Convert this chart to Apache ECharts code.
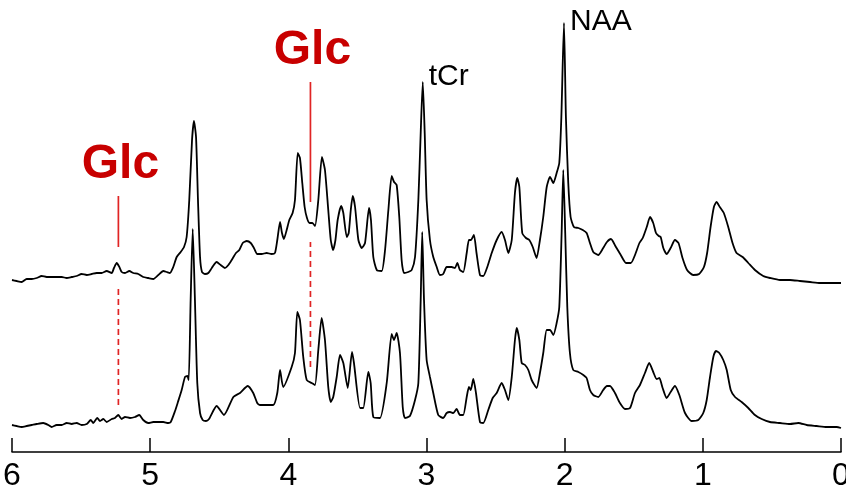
<!DOCTYPE html>
<html>
<head>
<meta charset="utf-8">
<style>
  html, body { margin: 0; padding: 0; background: #ffffff; }
  #chart { width: 846px; height: 490px; }
</style>
<script src="https://cdn.jsdelivr.net/npm/echarts@6/dist/echarts.min.js"></script>
</head>
<body>
<div id="chart"></div>
<script>
// Chemical shift axis ticks (ppm)
const ppmTicks = [6, 5, 4, 3, 2, 1, 0];

// Lower spectrum: chemical shift (ppm) and signal intensity (a.u.)
const ppmLower = [
  6.000, 5.966, 5.930, 5.894, 5.857, 5.821, 5.774, 5.737, 5.713, 5.677,
  5.640, 5.604, 5.568, 5.532, 5.496, 5.459, 5.430, 5.412, 5.383, 5.363,
  5.339, 5.315, 5.278, 5.255, 5.231, 5.206, 5.182, 5.146, 5.110, 5.079,
  5.050, 5.014, 4.977, 4.941, 4.905, 4.869, 4.851, 4.820, 4.799, 4.772,
  4.748, 4.731, 4.721, 4.707, 4.692, 4.676, 4.659, 4.639, 4.620, 4.596,
  4.574, 4.519, 4.466, 4.398, 4.350, 4.294, 4.254, 4.225, 4.205, 4.109,
  4.080, 4.060, 4.037, 3.976, 3.952, 3.935, 3.916, 3.892, 3.867, 3.831,
  3.807, 3.783, 3.759, 3.735, 3.711, 3.693, 3.675, 3.650, 3.626, 3.602,
  3.570, 3.539, 3.525, 3.481, 3.458, 3.421, 3.404, 3.385, 3.337, 3.288,
  3.252, 3.235, 3.216, 3.192, 3.172, 3.156, 3.120, 3.083, 3.059, 3.042,
  3.031, 3.018, 2.999, 2.975, 2.951, 2.915, 2.879, 2.854, 2.830, 2.806,
  2.782, 2.758, 2.734, 2.709, 2.693, 2.680, 2.661, 2.642, 2.613, 2.589,
  2.553, 2.521, 2.492, 2.456, 2.432, 2.408, 2.383, 2.360, 2.347, 2.328,
  2.311, 2.287, 2.263, 2.239, 2.203, 2.179, 2.155, 2.130, 2.106, 2.082,
  2.058, 2.039, 2.022, 2.010, 1.996, 1.981, 1.962, 1.938, 1.901, 1.865,
  1.841, 1.817, 1.793, 1.757, 1.721, 1.694, 1.672, 1.636, 1.600, 1.563,
  1.527, 1.491, 1.455, 1.419, 1.388, 1.359, 1.334, 1.315, 1.291, 1.262,
  1.233, 1.202, 1.170, 1.129, 1.081, 1.033, 0.997, 0.972, 0.948, 0.924,
  0.905, 0.881, 0.852, 0.827, 0.798, 0.767, 0.719, 0.671, 0.623, 0.574,
  0.514, 0.442, 0.369, 0.309, 0.248, 0.176, 0.104, 0.031, 0.000
];
const intLower = [
  27, 26, 25, 26, 27, 28, 29, 27, 25, 27,
  27, 29, 28, 29, 27, 28, 32, 29, 34, 31,
  33, 30, 33, 34, 37, 33, 35, 34, 35, 37,
  32, 29, 30, 30, 30, 29, 30, 41, 50, 62,
  75, 76, 72, 152, 223, 152, 69, 39, 32, 31,
  33, 46, 37, 55, 59, 66, 59, 49, 47, 47,
  59, 82, 65, 85, 99, 140, 132, 95, 72, 69,
  67, 102, 134, 112, 65, 50, 55, 75, 97, 89,
  64, 100, 89, 44, 44, 80, 69, 35, 34, 69,
  118, 112, 119, 99, 45, 34, 36, 52, 69, 152,
  220, 152, 92, 75, 59, 37, 34, 39, 40, 39,
  43, 37, 37, 55, 65, 62, 73, 59, 30, 29,
  42, 54, 59, 69, 62, 52, 75, 112, 124, 112,
  89, 87, 82, 72, 64, 79, 99, 122, 122, 117,
  129, 145, 219, 282, 219, 145, 99, 82, 80, 77,
  74, 62, 57, 55, 62, 66, 66, 59, 49, 43,
  44, 59, 67, 79, 89, 80, 73, 74, 64, 54,
  60, 66, 57, 39, 31, 32, 39, 52, 75, 95,
  101, 99, 92, 82, 62, 55, 50, 44, 37, 33,
  30, 29, 28, 29, 27, 26, 25, 25, 24
];

// Upper spectrum: chemical shift (ppm) and signal intensity (a.u.)
const ppmUpper = [
  6.000, 5.966, 5.930, 5.894, 5.857, 5.821, 5.785, 5.749, 5.713, 5.677,
  5.640, 5.604, 5.568, 5.532, 5.496, 5.459, 5.423, 5.387, 5.351, 5.315,
  5.278, 5.262, 5.242, 5.223, 5.206, 5.182, 5.151, 5.122, 5.086, 5.050,
  5.014, 4.977, 4.941, 4.905, 4.880, 4.857, 4.833, 4.808, 4.779, 4.755,
  4.736, 4.717, 4.697, 4.683, 4.668, 4.654, 4.639, 4.625, 4.603, 4.579,
  4.554, 4.519, 4.490, 4.459, 4.434, 4.410, 4.379, 4.355, 4.330, 4.301,
  4.272, 4.249, 4.225, 4.193, 4.157, 4.121, 4.097, 4.080, 4.060, 4.046,
  4.032, 4.012, 3.993, 3.969, 3.952, 3.932, 3.916, 3.899, 3.882, 3.865,
  3.846, 3.826, 3.807, 3.783, 3.757, 3.735, 3.711, 3.693, 3.676, 3.659,
  3.643, 3.618, 3.602, 3.577, 3.563, 3.548, 3.534, 3.517, 3.493, 3.469,
  3.445, 3.416, 3.402, 3.385, 3.360, 3.324, 3.300, 3.276, 3.252, 3.235,
  3.216, 3.197, 3.180, 3.163, 3.132, 3.107, 3.083, 3.059, 3.042, 3.027,
  3.013, 2.999, 2.975, 2.951, 2.926, 2.903, 2.879, 2.854, 2.818, 2.794,
  2.777, 2.758, 2.734, 2.709, 2.693, 2.679, 2.657, 2.638, 2.613, 2.589,
  2.560, 2.528, 2.492, 2.456, 2.432, 2.408, 2.383, 2.360, 2.343, 2.328,
  2.307, 2.280, 2.256, 2.231, 2.203, 2.179, 2.155, 2.130, 2.106, 2.082,
  2.058, 2.039, 2.024, 2.005, 1.991, 1.974, 1.957, 1.933, 1.901, 1.869,
  1.841, 1.817, 1.793, 1.757, 1.721, 1.694, 1.665, 1.629, 1.594, 1.556,
  1.521, 1.491, 1.459, 1.435, 1.406, 1.382, 1.359, 1.339, 1.319, 1.305,
  1.286, 1.262, 1.233, 1.202, 1.176, 1.147, 1.114, 1.070, 1.027, 0.992,
  0.969, 0.944, 0.920, 0.901, 0.877, 0.848, 0.816, 0.785, 0.756, 0.712,
  0.671, 0.623, 0.563, 0.514, 0.442, 0.369, 0.297, 0.224, 0.152, 0.080,
  0.000
];
const intUpper = [
  27, 26, 25, 28, 28, 29, 31, 30, 30, 30,
  30, 29, 30, 31, 33, 32, 33, 34, 34, 36,
  34, 39, 44, 40, 35, 34, 36, 34, 33, 30,
  29, 28, 32, 36, 35, 34, 40, 50, 55, 60,
  70, 107, 167, 186, 170, 107, 50, 35, 33, 34,
  39, 45, 42, 39, 42, 47, 54, 57, 64, 66,
  64, 59, 53, 53, 54, 53, 54, 67, 85, 74,
  68, 77, 87, 94, 107, 154, 149, 124, 100, 89,
  84, 84, 81, 107, 150, 137, 97, 67, 57, 67,
  87, 101, 94, 70, 74, 97, 111, 100, 67, 59,
  64, 99, 87, 50, 37, 36, 57, 97, 131, 125,
  122, 90, 47, 34, 35, 37, 50, 107, 174, 225,
  174, 107, 67, 50, 40, 32, 33, 40, 40, 39,
  44, 37, 35, 54, 67, 67, 72, 54, 32, 31,
  40, 54, 67, 75, 67, 54, 67, 114, 129, 120,
  74, 69, 67, 60, 49, 67, 90, 120, 130, 124,
  134, 144, 190, 284, 190, 124, 90, 80, 79, 77,
  74, 64, 55, 52, 59, 65, 68, 60, 52, 44,
  44, 52, 64, 69, 80, 90, 84, 74, 71, 70,
  59, 53, 59, 67, 64, 49, 37, 32, 33, 40,
  54, 80, 100, 105, 100, 94, 80, 64, 54, 50,
  44, 37, 31, 29, 27, 27, 26, 25, 24, 24,
  24
];

// Vertical stacking offset of the upper spectrum (a.u.)
const upperOffset = 145;

// Glucose resonances marked on the spectra (ppm)
const glcShifts = [5.23, 3.84];
// Extents of the solid and dashed marker lines (a.u.), one pair per resonance
const glcSolid = [[205, 256], [250, 370]];
const glcDashed = [[47, 165], [85, 210]];

// Peak labels: [name, ppm, peak top intensity of the upper spectrum]
const peakLabels = [
  ['tCr', 3.027, 225],
  ['NAA', 2.005, 284]
];

const zip = (xs, ys, off) => xs.map((x, i) => [x, ys[i] + (off || 0)]);

const spectrumStyle = { color: '#000000', width: 1.8 };
const series = [
  {
    type: 'line', data: zip(ppmLower, intLower), showSymbol: false, smooth: 0.2,
    lineStyle: spectrumStyle, silent: true
  },
  {
    type: 'line', data: zip(ppmUpper, intUpper, upperOffset), showSymbol: false, smooth: 0.2,
    lineStyle: spectrumStyle, silent: true
  }
];

glcShifts.forEach((ppm, i) => {
  series.push({
    type: 'line', showSymbol: false, silent: true,
    data: [[ppm, glcSolid[i][0]], [ppm, glcSolid[i][1]]],
    lineStyle: { color: '#e02424', width: 1.7 }
  });
  series.push({
    type: 'line', showSymbol: false, silent: true,
    data: [[ppm, glcDashed[i][0]], [ppm, glcDashed[i][1]]],
    lineStyle: { color: '#e02424', width: 1.7, type: [6, 4] }
  });
  // "Glc" caption above each solid marker
  series.push({
    type: 'scatter', symbolSize: 0, silent: true,
    itemStyle: { opacity: 1 },
    data: [[ppm, glcSolid[i][1]]],
    label: {
      show: true, formatter: 'Glc', position: 'inside',
      offset: [2, -31], align: 'center', verticalAlign: 'middle',
      fontFamily: 'Liberation Sans, Arial, sans-serif', fontWeight: 'bold',
      fontSize: 48, color: '#c80000'
    }
  });
});

peakLabels.forEach(([name, ppm, h]) => {
  series.push({
    type: 'scatter', symbolSize: 0, silent: true,
    itemStyle: { opacity: 1 },
    data: [[ppm, h + upperOffset]],
    label: {
      show: true, formatter: name, position: 'inside',
      offset: [6, name === 'tCr' ? -5 : -1], align: 'left', verticalAlign: 'middle',
      fontFamily: 'Liberation Sans, Arial, sans-serif',
      fontSize: 30, color: '#000000'
    }
  });
});

const chart = echarts.init(document.getElementById('chart'), null, { renderer: 'canvas' });
chart.setOption({
  animation: false,
  backgroundColor: '#ffffff',
  grid: { left: 12, right: 5, top: 0, bottom: 38, containLabel: false, outerBoundsMode: 'none' },
  xAxis: {
    type: 'value', min: 0, max: 6, interval: 1, inverse: true,
    axisLine: { show: true, lineStyle: { color: '#000000', width: 1.5 } },
    axisTick: { show: true, inside: true, length: 14, lineStyle: { color: '#000000', width: 1.5 } },
    axisLabel: {
      show: true, margin: 8, fontSize: 32, color: '#000000',
      fontFamily: 'Liberation Sans, Arial, sans-serif',
      formatter: v => (ppmTicks.includes(v) ? String(v) : '')
    },
    splitLine: { show: false }
  },
  yAxis: { type: 'value', min: 0, max: 452, show: false, splitLine: { show: false } },
  series: series
});
</script>
</body>
</html>
